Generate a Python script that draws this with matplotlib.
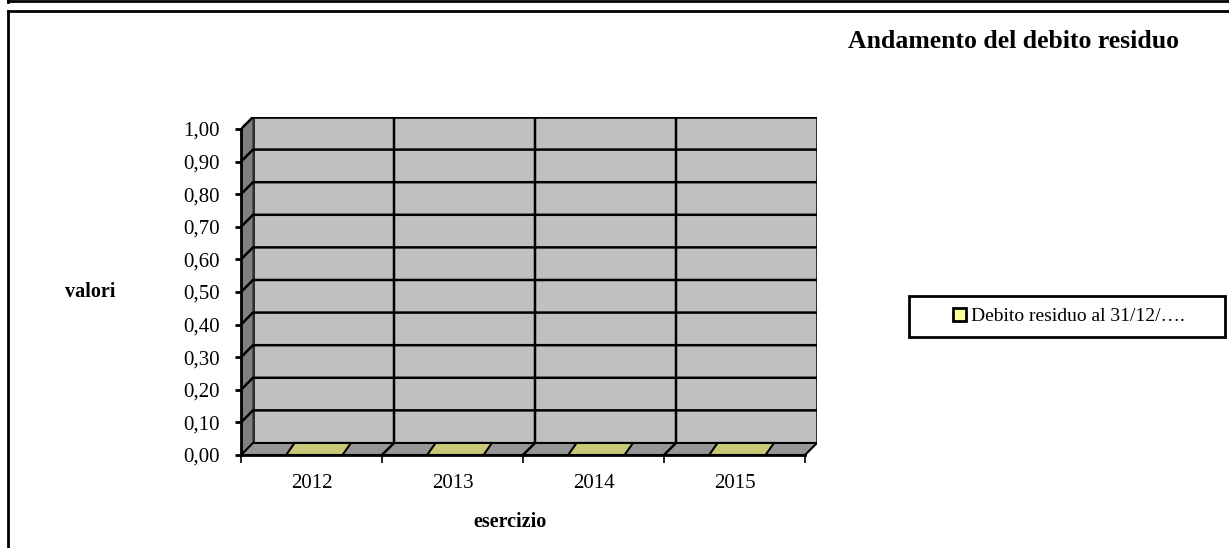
import matplotlib
matplotlib.use("Agg")
import matplotlib.pyplot as plt
from matplotlib.patches import Polygon, Rectangle
from matplotlib.lines import Line2D

# data
years = ["2012", "2013", "2014", "2015"]
debito = [0.0, 0.0, 0.0, 0.0]
yticks = [0.0, 0.1, 0.2, 0.3, 0.4, 0.5, 0.6, 0.7, 0.8, 0.9, 1.0]
serie_label = "Debito residuo al 31/12/…."

plt.rcParams['font.family'] = ['Liberation Serif', 'DejaVu Serif']

W, H = 1229, 548
fig = plt.figure(figsize=(W / 100, H / 100), dpi=100)

# 3d depth offsets (data units)
dx = 12 / 141
dy = 12 / 325
n = len(years)

ax = fig.add_axes([241 / W, 1 - 455 / H, 576 / W, 338 / H])
ax.set_xlim(0, n + dx)
ax.set_ylim(0, 1 + dy)
ax.patch.set_alpha(0)

# walls and floor
ax.add_patch(Rectangle((dx, dy), n, 1, facecolor="#c0c0c0", edgecolor="black", lw=1.8, zorder=1))
ax.add_patch(Polygon([(0, 0), (dx, dy), (dx, 1 + dy), (0, 1)], closed=True,
                     facecolor="#808080", edgecolor="#404040", lw=1, zorder=1))
ax.add_patch(Polygon([(0, 0), (n, 0), (n + dx, dy), (dx, dy)], closed=True,
                     facecolor="#969696", edgecolor="black", lw=1.5, zorder=2))

# horizontal gridlines (back wall + side wall)
for v in yticks[1:]:
    ax.plot([0, dx, n + dx], [v, v + dy, v + dy], color="black", lw=1.8, zorder=3)
# vertical gridlines (back wall + floor)
for c in range(1, n):
    ax.plot([c, c + dx, c + dx], [0, dy, 1 + dy], color="black", lw=1.8, zorder=3)

# bars (zero height -> only top face visible)
x0, x1 = 0.32, 0.72
sx = 0.06
for i, v in enumerate(debito):
    if v > 0:
        ax.add_patch(Rectangle((i + x0, 0), x1 - x0, v, facecolor="#c8c878", edgecolor="black", lw=1.2, zorder=4))
    ax.add_patch(Polygon([(i + x0, v), (i + x1, v), (i + x1 + sx, v + dy), (i + x0 + sx, v + dy)],
                         closed=True, facecolor="#c8c878", edgecolor="black", lw=1.5, zorder=4))

# axes styling
for s in ["top", "right"]:
    ax.spines[s].set_visible(False)
ax.spines["left"].set_bounds(0, 1)
ax.spines["bottom"].set_bounds(0, n)
ax.spines["left"].set_linewidth(2)
ax.spines["bottom"].set_linewidth(2)
ax.spines["left"].set_zorder(5)
ax.spines["bottom"].set_zorder(5)

ax.set_yticks(yticks)
ax.set_yticklabels([f"{v:.2f}".replace(".", ",") for v in yticks], fontsize=15)
ax.tick_params(axis="y", direction="out", length=4, width=2, pad=11)

ax.set_xticks(range(n + 1))
ax.set_xticklabels([])
ax.set_xticks([i + 0.5 for i in range(n)], minor=True)
ax.set_xticklabels(years, minor=True, fontsize=15)
ax.tick_params(axis="x", which="major", direction="out", length=6, width=1.2)
ax.tick_params(axis="x", which="minor", length=0, pad=14)

# titles
fig.text(1014 / W, 1 - 42 / H, "Andamento del debito residuo", fontsize=18.5,
         fontweight="bold", ha="center", va="center")
fig.text(90 / W, 1 - 292 / H, "valori", fontsize=14.5, fontweight="bold", ha="center", va="center")
fig.text(510 / W, 1 - 522 / H, "esercizio", fontsize=14.5, fontweight="bold", ha="center", va="center")

# legend (frame drawn separately to match the wide box)
fig.add_artist(Rectangle((909 / W, 1 - 337 / H), 316 / W, 41 / H, transform=fig.transFigure,
                         facecolor="white", edgecolor="black", lw=2, zorder=1))
handle = Rectangle((0, 0), 1, 1, facecolor="#ffff99", edgecolor="black", lw=2)
leg = fig.legend([handle], [serie_label], loc="center",
                 bbox_to_anchor=(1069 / W, 1 - 316.5 / H), fontsize=14,
                 frameon=False, handlelength=0.65, handleheight=0.65,
                 handletextpad=0.3, borderpad=0.3)
leg.set_zorder(2)

# outer frames
fig.add_artist(Line2D([8 / W, 1], [1 - 1 / H, 1 - 1 / H], transform=fig.transFigure, color="black", lw=2))
fig.add_artist(Line2D([8 / W, 8 / W], [1, 1 - 2 / H], transform=fig.transFigure, color="black", lw=2))
fig.add_artist(Line2D([8 / W, 1], [1 - 10.5 / H, 1 - 10.5 / H], transform=fig.transFigure, color="black", lw=2))
fig.add_artist(Line2D([8 / W, 8 / W], [1 - 10.5 / H, 0], transform=fig.transFigure, color="black", lw=2))

fig.savefig("out.png", dpi=100)
